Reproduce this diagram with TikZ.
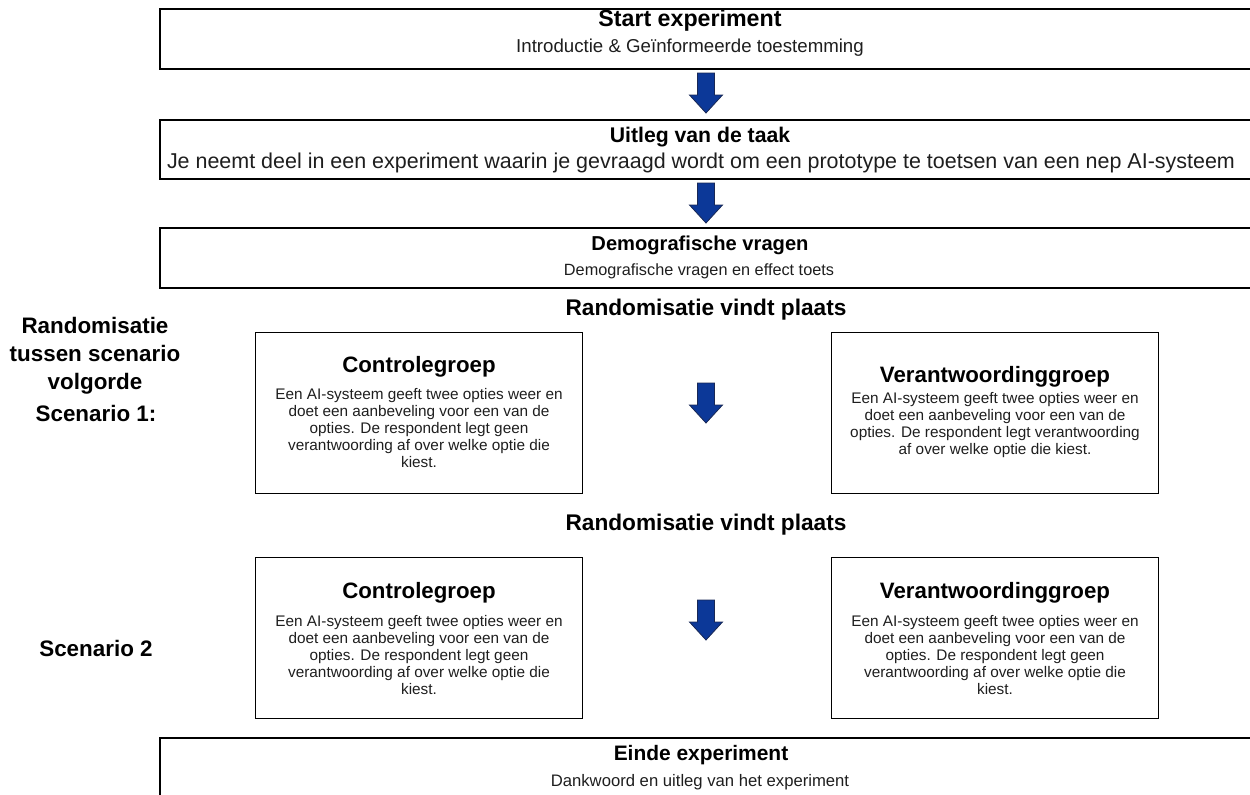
\documentclass[tikz,border=0pt]{standalone}
\usepackage{fontspec}
\setmainfont{Liberation Sans}
\definecolor{arrowblue}{RGB}{12,56,152}
\definecolor{arrowedge}{RGB}{25,40,85}
\definecolor{bodytext}{RGB}{30,30,30}
\begin{document}
\begin{tikzpicture}[x=0.75pt,y=-0.75pt,
  widebox/.style={draw=black, line width=1.2pt, inner sep=0pt, anchor=north west, minimum width=829.5pt},
  sbox/.style={draw=black, line width=1.2pt, inner sep=0pt, minimum width=245pt, minimum height=120.75pt},
  hd/.style={inner sep=0pt, font=\fontsize{15.7}{18}\selectfont\bfseries},
  bd/.style={inner sep=0pt, text=bodytext, font=\fontsize{13.5}{16}\selectfont},
  shd/.style={inner sep=0pt, font=\fontsize{16.7}{19}\selectfont\bfseries},
  sbd/.style={inner sep=0pt, align=center, text=bodytext, font=\fontsize{11.5}{12.75}\selectfont},
  side/.style={inner sep=0pt, align=center, font=\fontsize{16.8}{21}\selectfont\bfseries},
  barrow/.pic={\draw[fill=arrowblue, draw=arrowedge, line width=0.6pt]
     (-8.5,-20) -- (8.5,-20) -- (8.5,2) -- (16.5,2) -- (0,20) -- (-16.5,2) -- (-8.5,2) -- cycle;}
]
\useasboundingbox (0,0) rectangle (1250,794);
\clip (0,0) rectangle (1250,794);

% wide boxes
\node[widebox, minimum height=45pt] (b1) at (159,8) {};
\node[widebox, minimum height=44.25pt] (b2) at (159,119) {};
\node[widebox, minimum height=45pt] (b3) at (159,227) {};
\node[widebox, minimum height=60pt] (b4) at (159,737) {};

\node[hd, font=\fontsize{17.4}{20}\selectfont\bfseries] (t1) at (690,20) {Start experiment};
\node[bd, font=\fontsize{14}{16}\selectfont] (s1) at (690,48) {Introductie \& Geïnformeerde toestemming};
\node[hd, font=\fontsize{15.9}{18}\selectfont\bfseries] (t2) at (700,137) {Uitleg van de taak};
\node[bd, font=\fontsize{16.1}{18}\selectfont] (s2) at (701,163) {Je neemt deel in een experiment waarin je gevraagd wordt om een prototype te toetsen van een nep AI-systeem};
\node[hd, font=\fontsize{15.1}{18}\selectfont\bfseries] (t3) at (700,245) {Demografische vragen};
\node[bd, font=\fontsize{12.2}{15}\selectfont] (s3) at (699,271) {Demografische vragen en effect toets};
\node[hd] (t4) at (701,755) {Einde experiment};
\node[bd, font=\fontsize{12.5}{15}\selectfont] (s4) at (700,782) {Dankwoord en uitleg van het experiment};

% arrows between wide boxes
\path (706,93) pic {barrow};
\path (706,203) pic {barrow};

% randomisation labels
\node[hd, font=\fontsize{17}{20}\selectfont\bfseries] (r1) at (706,310) {Randomisatie vindt plaats};
\node[hd, font=\fontsize{17}{20}\selectfont\bfseries] (r2) at (706,525) {Randomisatie vindt plaats};

% side labels
\node[side] (lab1) at (95,356) {Randomisatie\\tussen scenario\\volgorde};
\node[side] (sc1) at (96,413) {Scenario 1:};
\node[side] (sc2) at (96,648) {Scenario 2};

% scenario boxes
\node[sbox] (c1) at (419,413) {};
\node[sbox] (v1) at (995,413) {};
\node[sbox] (c2) at (419,638) {};
\node[sbox] (v2) at (995,638) {};

\node[shd] (c1h) at (419,367) {Controlegroep};
\node[sbd] (c1b) at (419,428) {Een AI-systeem geeft twee opties weer en\\doet een aanbeveling voor een van de\\opties. De respondent legt geen\\verantwoording af over welke optie die\\kiest.};
\node[shd] (v1h) at (995,377) {Verantwoordinggroep};
\node[sbd] (v1b) at (995,425) {Een AI-systeem geeft twee opties weer en\\doet een aanbeveling voor een van de\\opties. De respondent legt verantwoording\\af over welke optie die kiest.};
\node[shd] (c2h) at (419,593) {Controlegroep};
\node[sbd] (c2b) at (419,655) {Een AI-systeem geeft twee opties weer en\\doet een aanbeveling voor een van de\\opties. De respondent legt geen\\verantwoording af over welke optie die\\kiest.};
\node[shd] (v2h) at (995,593) {Verantwoordinggroep};
\node[sbd] (v2b) at (995,655) {Een AI-systeem geeft twee opties weer en\\doet een aanbeveling voor een van de\\opties. De respondent legt geen\\verantwoording af over welke optie die\\kiest.};

\path (706,403) pic {barrow};
\path (706,620) pic {barrow};
\end{tikzpicture}
\end{document}
